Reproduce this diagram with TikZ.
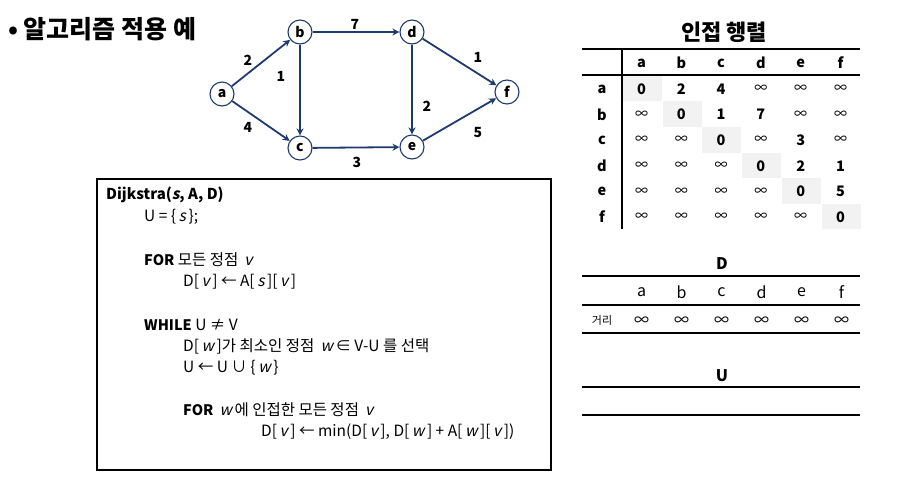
\documentclass[tikz,border=0pt]{standalone}
\usepackage{fontspec}
\setmainfont{Noto Sans CJK KR}
\newfontfamily\slfont{Noto Sans CJK KR}[FakeSlant=0.22]
\newcommand{\vv}[1]{\,{\slfont #1}\,}
\newcommand{\kw}[1]{{\fontsize{14.5}{15}\selectfont\bfseries #1}}
\newcommand{\oo}{{\fontsize{13}{13}\selectfont\mdseries ∞}}
\usetikzlibrary{arrows.meta}
\definecolor{navy}{HTML}{1F3A6E}
\definecolor{cellgray}{HTML}{F2F2F2}
\begin{document}
\begin{tikzpicture}[x=1pt,y=-1pt,
  vertex/.style={circle,draw=navy,line width=1.1pt,fill=white,minimum size=24pt,inner sep=0pt,font=\fontsize{14}{14}\selectfont\bfseries},
  edge/.style={draw=navy,line width=1.8pt,-{Stealth[length=7pt,width=7pt]}},
  wlabel/.style={font=\fontsize{14}{14}\selectfont\bfseries,inner sep=0pt},
  mtitle/.style={font=\fontsize{22}{22}\selectfont\bfseries,inner sep=0pt},
  mhead/.style={font=\fontsize{14.5}{14}\selectfont\bfseries,inner sep=0pt},
  mcell/.style={font=\fontsize{14.5}{14}\selectfont\bfseries,inner sep=0pt},
  dhead/.style={font=\fontsize{16}{16}\selectfont,inner sep=0pt},
  dcell/.style={font=\fontsize{15}{15}\selectfont,inner sep=0pt},
  rule/.style={line width=2pt},
  algo/.style={anchor=west,inner sep=0pt,font=\fontsize{15.5}{16}\selectfont}
]
\useasboundingbox (0,0) rectangle (902,482);

% title
\node[anchor=west,inner sep=0pt,font=\fontsize{25}{25}\selectfont\bfseries] (title) at (8,29) {• 알고리즘 적용 예};

% graph
\node[vertex] (a) at (222,94) {a};
\node[vertex] (b) at (300,32) {b};
\node[vertex] (c) at (300,148) {c};
\node[vertex] (d) at (412,32) {d};
\node[vertex] (e) at (412,147) {e};
\node[vertex] (f) at (507,92) {f};
\draw[edge] (a) -- (b);
\draw[edge] (a) -- (c);
\draw[edge] (b) -- (d);
\draw[edge] (b) -- (c);
\draw[edge] (d) -- (f);
\draw[edge] (d) -- (e);
\draw[edge] (c) -- (e);
\draw[edge] (e) -- (f);
\node[wlabel] (lab) at (248,60) {2};
\node[wlabel] (lac) at (248,127) {4};
\node[wlabel] (lbc) at (281,76) {1};
\node[wlabel] (lbd) at (355,24) {7};
\node[wlabel] (ldf) at (478,57) {1};
\node[wlabel] (lde) at (427,106) {2};
\node[wlabel] (lef) at (478,133) {5};
\node[wlabel] (lce) at (357,162) {3};

% adjacency matrix
\node[mtitle] (mt) at (724,32) {인접 행렬};
\foreach \i in {0,...,5} {
  \fill[cellgray] (622.7+\i*39.8,75.7+\i*25.6) rectangle ++(39,25.6);
}
\draw[rule] (582,49) -- (860,49);
\draw[rule] (582,74.5) -- (860,74.5);
\draw[line width=2pt] (622,49) -- (622,229);
\foreach \l [count=\k from 0] in {a,b,c,d,e,f} {
  \node[mhead] (mh-\l) at (641.5+\k*39.8,63) {\l};
  \node[mhead] (mr-\l) at (602,89+\k*25.6) {\l};
}
\foreach \row [count=\r from 0] in {
  {0,2,4,\oo,\oo,\oo},
  {\oo,0,1,7,\oo,\oo},
  {\oo,\oo,0,\oo,3,\oo},
  {\oo,\oo,\oo,0,2,1},
  {\oo,\oo,\oo,\oo,0,5},
  {\oo,\oo,\oo,\oo,\oo,0}} {
  \foreach \v [count=\c from 0] in \row {
    \node[mcell] (m-\r-\c) at (641.5+\c*39.8,89+\r*25.6) {\v};
  }
}

% D table
\node[inner sep=0pt,font=\fontsize{16}{16}\selectfont\bfseries] (dt) at (722,264) {D};
\draw[rule] (582,276) -- (860,276);
\draw[rule] (582,305) -- (860,305);
\draw[rule] (582,333) -- (860,333);
\foreach \l [count=\k from 0] in {a,b,c,d,e,f} {
  \node[dhead] (dh-\l) at (641.5+\k*40,292) {\l};
  \node[dcell] (dv-\l) at (641.5+\k*40,321) {∞};
}
\node[inner sep=0pt,font=\fontsize{11}{11}\selectfont] (dist) at (602,320) {거리};

% U table
\node[inner sep=0pt,font=\fontsize{16}{16}\selectfont\bfseries] (ut) at (722,376) {U};
\draw[rule] (582,387) -- (860,387);
\draw[rule] (582,415) -- (860,415);

% algorithm box
\draw[line width=1.3pt] (97,179) rectangle (551,470);
\node[algo,font=\fontsize{15}{15}\selectfont\bfseries] (l1) at (106,195) {Dijkstra({\slfont s}, A, D)};
\node[algo] (l2) at (144,217) {U = \{\vv{s}\};};
\node[algo] (l3) at (144,260) {\kw{FOR} 모든 정점 \vv{v}};
\node[algo] (l4) at (183,282) {D[\vv{v}] ← A[\vv{s}][\vv{v}]};
\node[algo] (l5) at (144,325) {\kw{WHILE} U ≠ V};
\node[algo] (l6) at (183,346) {D[\vv{w}]가 최소인 정점 \vv{w}∈ V-U 를 선택};
\node[algo] (l7) at (183,368) {U ← U ∪ \{\vv{w}\}};
\node[algo] (l8) at (183,410) {\kw{FOR} \vv{w}에 인접한 모든 정점 \vv{v}};
\node[algo] (l9) at (261,432) {D[\vv{v}] ← min(D[\vv{v}], D[\vv{w}] + A[\vv{w}][\vv{v}])};
\end{tikzpicture}
\end{document}
